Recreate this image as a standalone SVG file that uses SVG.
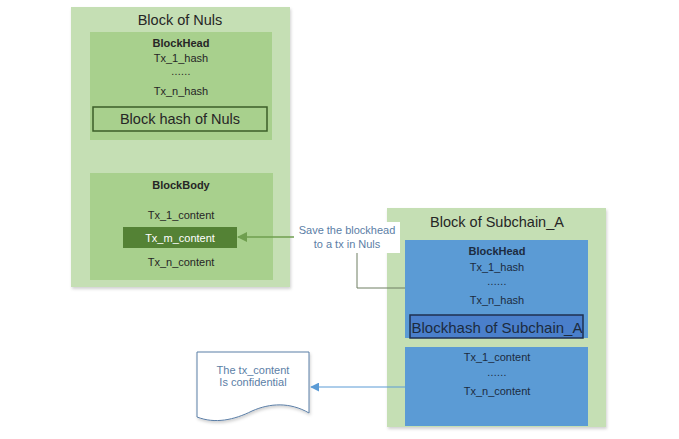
<svg xmlns="http://www.w3.org/2000/svg" width="679" height="439" viewBox="0 0 679 439">
<style>
text{font-family:"Liberation Sans",Arial,sans-serif;text-anchor:middle;dominant-baseline:central}
.t14{font-size:14.5px;fill:#262626}
.t11{font-size:11px;fill:#262626}
.b{font-weight:bold}
.bl{fill:#1c2b3f}
.lbl{font-size:11px;fill:#5b7ea6}
.outerG{fill:#c5dfb4}
.innerG{fill:#a8d08d}
.blue{fill:#5b9bd5}
.dots{font-size:10.5px;letter-spacing:0.3px}
</style>
<defs>
<filter id="sh" x="-5%" y="-5%" width="115%" height="115%">
<feDropShadow dx="1" dy="2" stdDeviation="1.5" flood-color="#000" flood-opacity="0.18"/>
</filter>
<marker id="ag" viewBox="0 0 10 10" refX="9" refY="5" markerWidth="11" markerHeight="10" orient="auto" markerUnits="userSpaceOnUse">
<path d="M0,0 L10,5 L0,10 z" fill="#6f9f4f"/>
</marker>
<marker id="ab" viewBox="0 0 10 10" refX="9" refY="5" markerWidth="9" markerHeight="9" orient="auto" markerUnits="userSpaceOnUse">
<path d="M0,0 L10,5 L0,10 z" fill="#5b9bd5"/>
</marker>
</defs>
<rect width="679" height="439" fill="#ffffff"/>

<g id="block-nuls">
<rect class="outerG" x="71" y="7" width="219" height="280" filter="url(#sh)"/>
<text class="t14" x="180" y="20">Block of Nuls</text>
<g id="nuls-head">
<rect class="innerG" x="90" y="32" width="182" height="108"/>
<text class="t11 b" x="181" y="43">BlockHead</text>
<text class="t11" x="181" y="58">Tx_1_hash</text>
<text class="t11 dots" x="181" y="71">......</text>
<text class="t11" x="181" y="91">Tx_n_hash</text>
<rect x="93" y="107" width="174" height="24" fill="#a8d08d" stroke="#3b5e28" stroke-width="1.5"/>
<text class="t14" x="180" y="119">Block hash of Nuls</text>
</g>
<g id="nuls-body">
<rect class="innerG" x="90" y="173" width="183" height="107"/>
<text class="t11 b" x="181" y="185">BlockBody</text>
<text class="t11" x="181" y="215">Tx_1_content</text>
<rect x="123" y="227" width="114" height="21" fill="#548235"/>
<text class="t11" x="180" y="238" style="fill:#ffffff">Tx_m_content</text>
<text class="t11" x="181" y="262">Tx_n_content</text>
</g>
</g>

<g id="block-subchain">
<rect class="outerG" x="387" y="208" width="219" height="219" filter="url(#sh)"/>
<text class="t14" x="497" y="222">Block of Subchain_A</text>
<g id="sub-head">
<rect class="blue" x="405" y="240" width="183" height="98"/>
<text class="t11 b bl" x="497" y="251">BlockHead</text>
<text class="t11 bl" x="497" y="267">Tx_1_hash</text>
<text class="t11 bl dots" x="497" y="281">......</text>
<text class="t11 bl" x="497" y="300">Tx_n_hash</text>
<rect x="410" y="315" width="173" height="23" fill="#4a7fcb" stroke="#1f3050" stroke-width="1.5"/>
<text class="t14 bl" x="497" y="327" style="font-size:15px">Blockhash of Subchain_A</text>
</g>
<g id="sub-body">
<rect class="blue" x="405" y="347" width="183" height="79"/>
<text class="t11 bl" x="497" y="357">Tx_1_content</text>
<text class="t11 bl dots" x="497" y="372">......</text>
<text class="t11 bl" x="497" y="391">Tx_n_content</text>
</g>
</g>

<g id="doc-confidential">
<path d="M197,352 H309 V413 C290,402 270,403 252,411 C234,420 215,424 197,417 Z" fill="#ffffff" stroke="#5b7ea6" stroke-width="1" filter="url(#sh)"/>
<text class="lbl" x="253" y="370">The tx_content</text>
<text class="lbl" x="253" y="382">Is confidential</text>
</g>

<g id="connectors">
<polyline points="405,288 357,288 357,252" fill="none" stroke="#6f7f62" stroke-width="1"/>
<rect x="294" y="222" width="106" height="31" fill="#ffffff"/>
<text class="lbl" x="347" y="230">Save the blockhead</text>
<text class="lbl" x="347" y="244">to a tx in Nuls</text>
<line x1="294" y1="237" x2="238" y2="237" stroke="#6f9f4f" stroke-width="1.5" marker-end="url(#ag)"/>
<line x1="405" y1="387" x2="311" y2="387" stroke="#5b9bd5" stroke-width="1" marker-end="url(#ab)"/>
</g>
</svg>
